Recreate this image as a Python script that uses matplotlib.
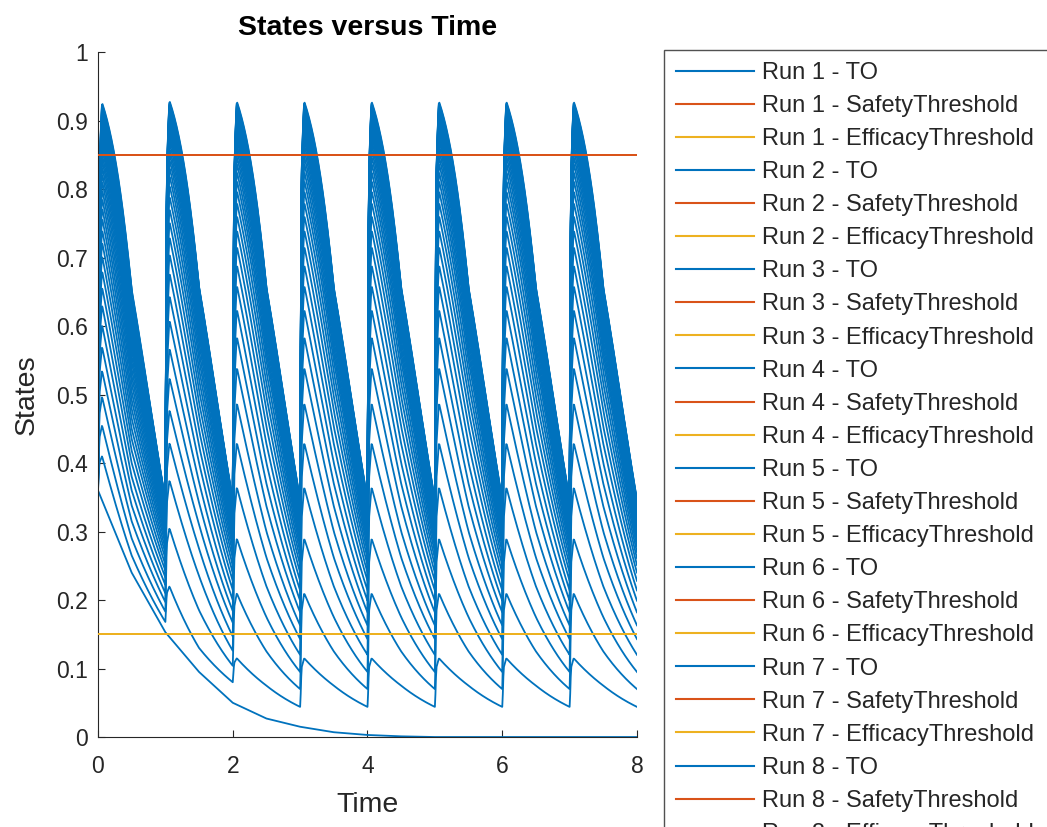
import numpy as np
import matplotlib.pyplot as plt
from matplotlib.lines import Line2D

plt.rcParams['font.family'] = ['Liberation Sans', 'DejaVu Sans']

# daily dosing, simulation stops at day 8
dose_times = [0, 1, 2, 3, 4, 5, 6, 7]
t_stop = 8
to_start = 0.36  # TO at t = 0 for every run

# run without any dose: TO read at fixed times
nodose_t = [0, 0.5, 1, 1.5, 2, 2.5, 3, 3.5, 4, 4.5, 5, 8]
nodose_to = [0.36, 0.24, 0.153, 0.095, 0.05, 0.027, 0.015, 0.007, 0.003, 0.001, 0.0, 0.0]

# dosed runs: TO just after a dose (peak), half-way (mid) and just before the next dose (trough)
# first interval, second interval, then steady state
first_peak = [0.41, 0.455, 0.497, 0.535, 0.57, 0.602, 0.631, 0.657, 0.681, 0.703,
              0.723, 0.741, 0.758, 0.773, 0.787, 0.80, 0.812, 0.823, 0.833, 0.842,
              0.85, 0.858, 0.865, 0.871, 0.877, 0.882, 0.887, 0.891, 0.895, 0.899,
              0.902, 0.905, 0.908, 0.911, 0.914, 0.917, 0.92, 0.922, 0.924, 0.926]
first_mid = [0.265, 0.29, 0.315, 0.338, 0.36, 0.38, 0.40, 0.418, 0.435, 0.45,
             0.465, 0.479, 0.492, 0.504, 0.516, 0.527, 0.537, 0.547, 0.556, 0.565,
             0.573, 0.58, 0.587, 0.593, 0.599, 0.605, 0.61, 0.615, 0.62, 0.624,
             0.628, 0.632, 0.636, 0.639, 0.642, 0.645, 0.647, 0.649, 0.651, 0.653]
first_trough = [0.168, 0.183, 0.197, 0.21, 0.222, 0.233, 0.243, 0.252, 0.261, 0.269,
                0.276, 0.283, 0.289, 0.295, 0.30, 0.305, 0.31, 0.314, 0.318, 0.321,
                0.324, 0.327, 0.33, 0.332, 0.334, 0.336, 0.337, 0.338, 0.339, 0.34,
                0.341, 0.342, 0.342, 0.343, 0.343, 0.344, 0.344, 0.345, 0.345, 0.346]
second_peak = [0.22, 0.305, 0.375, 0.43, 0.478, 0.525, 0.568, 0.609, 0.645, 0.678,
               0.706, 0.731, 0.753, 0.772, 0.79, 0.806, 0.82, 0.832, 0.843, 0.852,
               0.86, 0.868, 0.875, 0.881, 0.886, 0.891, 0.895, 0.899, 0.903, 0.906,
               0.909, 0.912, 0.915, 0.917, 0.919, 0.921, 0.923, 0.925, 0.927, 0.929]
second_mid = [0.13, 0.185, 0.235, 0.275, 0.31, 0.342, 0.372, 0.40, 0.425, 0.448,
              0.469, 0.488, 0.506, 0.522, 0.537, 0.551, 0.563, 0.575, 0.585, 0.594,
              0.602, 0.609, 0.615, 0.621, 0.626, 0.63, 0.634, 0.638, 0.641, 0.644,
              0.646, 0.648, 0.65, 0.651, 0.652, 0.653, 0.654, 0.655, 0.656, 0.657]
second_trough = [0.08, 0.104, 0.126, 0.147, 0.167, 0.184, 0.20, 0.215, 0.228, 0.24,
                 0.251, 0.261, 0.27, 0.278, 0.285, 0.291, 0.297, 0.302, 0.307, 0.311,
                 0.315, 0.319, 0.322, 0.325, 0.328, 0.33, 0.332, 0.334, 0.336, 0.337,
                 0.339, 0.34, 0.341, 0.341, 0.342, 0.343, 0.343, 0.344, 0.345, 0.346]
ss_peak = [0.115, 0.21, 0.29, 0.365, 0.43, 0.488, 0.54, 0.585, 0.625, 0.66,
           0.69, 0.717, 0.741, 0.762, 0.781, 0.798, 0.813, 0.826, 0.838, 0.848,
           0.857, 0.865, 0.872, 0.878, 0.884, 0.889, 0.894, 0.898, 0.902, 0.905,
           0.908, 0.911, 0.914, 0.916, 0.918, 0.92, 0.922, 0.924, 0.926, 0.928]
ss_mid = [0.075, 0.125, 0.175, 0.22, 0.262, 0.30, 0.337, 0.37, 0.40, 0.428,
          0.453, 0.476, 0.497, 0.516, 0.533, 0.549, 0.56, 0.57, 0.58, 0.59,
          0.598, 0.605, 0.611, 0.617, 0.622, 0.627, 0.631, 0.635, 0.638, 0.641,
          0.643, 0.645, 0.647, 0.649, 0.651, 0.652, 0.653, 0.654, 0.655, 0.656]
ss_trough = [0.044, 0.07, 0.095, 0.12, 0.143, 0.163, 0.182, 0.199, 0.214, 0.228,
             0.24, 0.251, 0.261, 0.27, 0.278, 0.285, 0.291, 0.297, 0.302, 0.307,
             0.311, 0.315, 0.318, 0.321, 0.324, 0.327, 0.329, 0.331, 0.333, 0.335,
             0.337, 0.338, 0.339, 0.34, 0.341, 0.342, 0.343, 0.344, 0.345, 0.346]

safety_threshold = 0.85
efficacy_threshold = 0.15

c_to = '#0072BD'
c_safe = '#D95319'
c_eff = '#EDB120'
c_ax = '#262626'


def logit(p):
    p = np.clip(np.asarray(p, dtype=float), 1e-5, 1 - 1e-5)
    return np.log(p / (1 - p))


def run_curve(i):
    ts, ys = [], []
    prev = to_start
    for k, td in enumerate(dose_times):
        if k == 0:
            P, M, T = first_peak[i], first_mid[i], first_trough[i]
        elif k == 1:
            P, M, T = second_peak[i], second_mid[i], second_trough[i]
        else:
            P, M, T = ss_peak[i], ss_mid[i], ss_trough[i]
        kt = [td, td + 0.02, td + 0.06, td + 0.5, td + 1]
        kv = [prev, prev + 0.8 * (P - prev), P, M, T]
        tt = np.linspace(td, td + 1, 121)
        z = np.interp(tt, kt, logit(kv))
        ts.append(tt)
        ys.append(1 / (1 + np.exp(-z)))
        prev = T
    return np.concatenate(ts), np.concatenate(ys)


fig = plt.figure(figsize=(10.47, 8.27), dpi=100)
ax = fig.add_axes([0.0936, 0.1088, 0.5148, 0.8283])

n_runs = len(first_peak) + 1
ax.plot(nodose_t, nodose_to, color=c_to, lw=1.3, zorder=2)
for i in range(len(first_peak)):
    t, y = run_curve(i)
    ax.plot(t, y, color=c_to, lw=1.3, zorder=2)
for r in range(n_runs):
    ax.plot([0, t_stop], [safety_threshold] * 2, color=c_safe, lw=1.3, zorder=3)
    ax.plot([0, t_stop], [efficacy_threshold] * 2, color=c_eff, lw=1.3, zorder=3)

ax.set_xlim(0, 8)
ax.set_ylim(0, 1)
ax.set_xticks([0, 2, 4, 6, 8])
ax.set_yticks(np.arange(0, 1.01, 0.1))
ax.set_yticklabels(['0', '0.1', '0.2', '0.3', '0.4', '0.5', '0.6', '0.7', '0.8', '0.9', '1'])
for s in ['top', 'right']:
    ax.spines[s].set_visible(False)
for s in ['left', 'bottom']:
    ax.spines[s].set_color(c_ax)
ax.tick_params(direction='in', length=5, colors=c_ax, labelsize=16.5)
ax.tick_params(axis='x', pad=13)
ax.tick_params(axis='y', pad=7)
ax.set_title('States versus Time', fontsize=20.5, fontweight='bold', pad=12)
ax.set_xlabel('Time', fontsize=20.5, color=c_ax, labelpad=10)
ax.set_ylabel('States', fontsize=20.5, color=c_ax, labelpad=12)

handles, labels = [], []
for r in range(n_runs):
    handles += [Line2D([], [], color=c_to, lw=1.5), Line2D([], [], color=c_safe, lw=1.5),
                Line2D([], [], color=c_eff, lw=1.5)]
    labels += [f'Run {r + 1} - TO', f'Run {r + 1} - SafetyThreshold',
               f'Run {r + 1} - EfficacyThreshold']
leg = fig.legend(handles, labels, loc='upper left', bbox_to_anchor=(664 / 1047, 1 - 50 / 827),
                 fontsize=17, frameon=True, fancybox=False, handlelength=3.3, handletextpad=0.36,
                 labelspacing=0.47, borderpad=0.5, borderaxespad=0, labelcolor=c_ax)
leg.get_frame().set_edgecolor(c_ax)
leg.get_frame().set_linewidth(1.0)

fig.savefig('out.png', dpi=100)
